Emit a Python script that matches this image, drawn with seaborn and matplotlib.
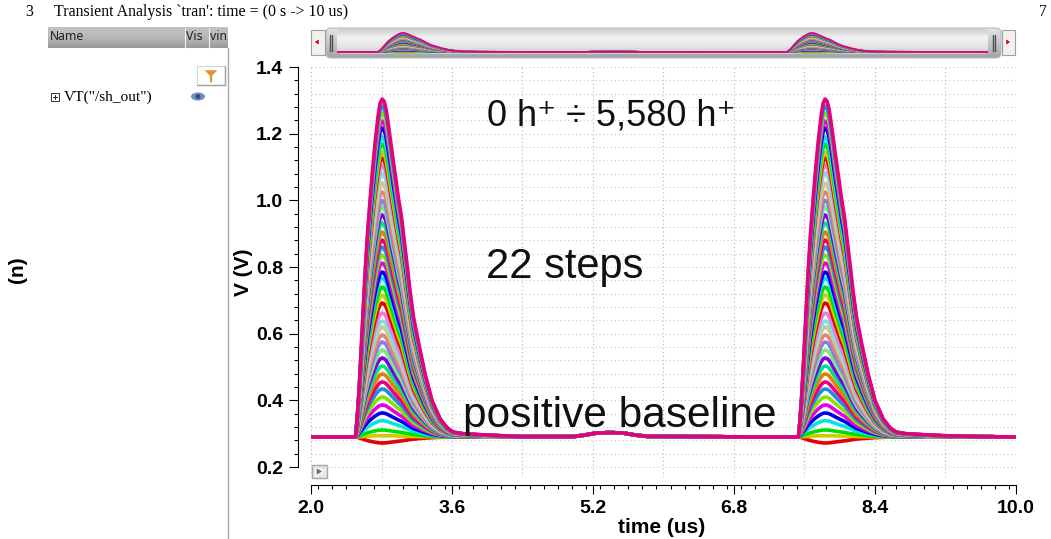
import numpy as np
import pandas as pd
import matplotlib
matplotlib.use("Agg")
import matplotlib.pyplot as plt
from matplotlib.patches import FancyBboxPatch, Polygon, Rectangle, Ellipse
from matplotlib.ticker import MultipleLocator, FormatStrFormatter
import seaborn as sns

W, H = 1051, 539

peak_v = [0.272, 0.294, 0.311, 0.339, 0.362, 0.386, 0.410, 0.434, 0.455,
          0.479, 0.503, 0.527, 0.551, 0.575, 0.596, 0.620, 0.638, 0.662,
          0.692, 0.716, 0.740, 0.767, 0.785, 0.812, 0.836, 0.860, 0.881,
          0.905, 0.932, 0.956, 0.980, 1.000, 1.025, 1.052, 1.082, 1.106,
          1.127, 1.145, 1.169, 1.190, 1.217, 1.238, 1.262, 1.283, 1.304]

# outermost pulse
pulse_offset_us = [0.000, 0.017, 0.040, 0.062, 0.085, 0.108, 0.136, 0.165, 0.193,
                   0.221, 0.255, 0.278, 0.301, 0.323, 0.346, 0.369, 0.397, 0.425,
                   0.460, 0.488, 0.522, 0.550, 0.579, 0.618, 0.658, 0.721, 0.789,
                   0.868, 0.959, 1.038, 1.106, 1.220, 1.413, 1.640]
pulse_ref_v = [0.290, 0.340, 0.430, 0.540, 0.660, 0.780, 0.900, 1.000, 1.090,
               1.170, 1.250, 1.290, 1.304, 1.298, 1.275, 1.235, 1.180, 1.125,
               1.060, 1.005, 0.950, 0.885, 0.820, 0.730, 0.650, 0.565, 0.480,
               0.400, 0.345, 0.318, 0.305, 0.300, 0.297, 0.294]
pulse_start_us = [2.505, 7.532]

# flat parts, shared by all the curves
lead_time_us = [2.0, 2.4]
lead_v = [0.290, 0.290]
gap_time_us = [4.372, 4.973, 5.109, 5.245, 5.393, 5.540, 5.676, 5.813, 6.414, 7.095]
gap_v = [0.291, 0.291, 0.296, 0.302, 0.303, 0.302, 0.296, 0.292, 0.291, 0.290]
tail_time_us = [9.6, 10.0]
tail_v = [0.291, 0.290]
base_v = 0.290

curve_colors = ["#e60000", "#cccc00", "#00e000", "#00e6e6", "#0000e6", "#e600e6",
                "#8ae000", "#1a8fe0", "#e6007e", "#e67e00", "#00e67e", "#8000e6",
                "#80e680", "#8080e6", "#e68080", "#cccc80", "#80e0e0", "#e080e0"]

y_ticks = [0.2, 0.4, 0.6, 0.8, 1.0, 1.2, 1.4]
x_ticks = [2.0, 3.6, 5.2, 6.8, 8.4, 10.0]


def build_curves():
    rows = []
    ref = np.array(pulse_ref_v)
    offs = np.array(pulse_offset_us)
    for i, peak in enumerate(peak_v):
        scaled = base_v + (ref - base_v) * (peak - base_v) / (ref.max() - base_v)
        t = np.concatenate([lead_time_us, pulse_start_us[0] + offs, gap_time_us,
                            pulse_start_us[1] + offs, tail_time_us])
        v = np.concatenate([lead_v, scaled, gap_v, scaled, tail_v])
        rows.append(pd.DataFrame({"time": t, "v": v, "curve": i}))
    return pd.concat(rows, ignore_index=True)


def px_axes(left, top, right, bottom):
    return fig.add_axes([left / W, 1 - bottom / H, (right - left) / W, (bottom - top) / H])


def gradient(ax, x0, x1, y0, y1, stops, z=1):
    g = np.interp(np.linspace(0, 1, 64), np.linspace(0, 1, len(stops)), stops).reshape(-1, 1)
    return ax.imshow(g, extent=[x0, x1, y1, y0], cmap="gray", vmin=0, vmax=1, aspect="auto", zorder=z)


sns.set_theme(style="white")
plt.rcParams["font.family"] = ["Liberation Sans", "DejaVu Sans"]
plt.rcParams["text.color"] = "black"
plt.rcParams["axes.labelcolor"] = "black"
plt.rcParams["xtick.labelcolor"] = "black"
plt.rcParams["ytick.labelcolor"] = "black"

df = build_curves()
palette = {i: curve_colors[i % len(curve_colors)] for i in range(len(peak_v))}

fig = plt.figure(figsize=(W / 100, H / 100), dpi=100, facecolor="white")

# window chrome around the plot
bg = fig.add_axes([0, 0, 1, 1])
gradient(bg, 48, 228, 27, 48, [0.76, 0.72, 0.60])
bar = gradient(bg, 325, 1002, 27, 59, [0.90, 0.82, 0.74, 0.62])
bar_shape = FancyBboxPatch((326, 28), 675, 30, boxstyle="round,pad=0,rounding_size=5",
                           fc="none", ec="#b8bcc4", lw=0.8, zorder=2)
bg.add_patch(bar_shape)
bar.set_clip_path(bar_shape)
lane = gradient(bg, 337, 988, 29, 54, [0.80, 0.95, 0.90, 0.80], z=2)
lane_shape = FancyBboxPatch((337, 29), 651, 25, boxstyle="round,pad=0,rounding_size=4",
                            fc="none", ec="none", zorder=2)
bg.add_patch(lane_shape)
lane.set_clip_path(lane_shape)
bg.add_patch(Rectangle((311, 30), 14, 25, fc="#f0f0f0", ec="#a0a0a0", lw=0.8, zorder=2))
bg.add_patch(Rectangle((1002, 30), 13, 25, fc="#f0f0f0", ec="#a0a0a0", lw=0.8, zorder=2))
bg.add_patch(Polygon([[313.5, 42], [319.5, 38], [319.5, 46]], fc="#e00000", zorder=3))
bg.add_patch(Polygon([[1011.5, 42], [1005.5, 38], [1005.5, 46]], fc="#e00000", zorder=3))
for gx in [330, 332, 993, 995]:
    bg.plot([gx, gx], [35, 51], color="#505050", lw=1, zorder=3)
bg.plot([184.5, 184.5], [28, 48], color="#f0f0f0", lw=0.8, zorder=2)
bg.plot([208.5, 208.5], [28, 48], color="#f0f0f0", lw=0.8, zorder=2)
bg.plot([228, 228], [48, 539], color="#a8a8a8", lw=1, zorder=2)
bg.add_patch(Rectangle((197, 66), 28, 19, fc="white", ec="#d4d4d4", lw=0.8, zorder=2))
bg.plot([197, 225, 225], [85, 85, 66], color="#a0a0a0", lw=1, zorder=3)
bg.add_patch(Polygon([[203, 69.5], [219, 69.5], [212.8, 76], [212.8, 83], [209.2, 83], [209.2, 76]],
                     fc="#e8902c", zorder=3))
bg.add_patch(Rectangle((51, 93), 8, 8, fc="white", ec="#303030", lw=0.7, zorder=2))
bg.plot([53, 57], [97, 97], color="#202020", lw=0.7, zorder=3)
bg.plot([55, 55], [95, 99], color="#202020", lw=0.7, zorder=3)
bg.add_patch(Ellipse((198, 96.5), 14, 8, fc="#6f8fc0", ec="none", zorder=2))
bg.add_patch(Ellipse((198, 96.5), 5, 5, fc="#34507f", ec="none", zorder=3))
bg.add_patch(Rectangle((312, 465), 15, 13, fc="#e8e8e8", ec="#a8a8a8", lw=1, zorder=2))
bg.add_patch(Polygon([[316, 467], [323.5, 471.5], [316, 476]], fc="#707070", zorder=3))
bg.set_xlim(0, W)
bg.set_ylim(H, 0)
bg.axis("off")

serif = "Liberation Serif"
bg.text(29, 12, "3", family=serif, fontsize=11.4, ha="center", va="center")
bg.text(54, 12, "Transient Analysis `tran': time = (0 s -> 10 us)", family=serif,
        fontsize=11.4, va="center")
bg.text(1043, 12, "7", family=serif, fontsize=11.4, ha="center", va="center")
bg.text(50, 36.5, "Name", family="Noto Sans", fontsize=8.8, va="center", color="#202020")
bg.text(186, 36.5, "Vis", family="Noto Sans", fontsize=8.8, va="center", color="#202020")
bg.text(210, 36.5, "vin", family="Noto Sans", fontsize=8.8, va="center", color="#202020")
bg.text(64, 97, 'VT("/sh_out")', family=serif, fontsize=11.1, va="center")
bg.text(18, 270, "(n)", fontsize=15, fontweight="bold", rotation=90, ha="center", va="center")

# main plot
ax = px_axes(311, 66, 1016, 477)
ax.patch.set_alpha(0)
sns.lineplot(data=df, x="time", y="v", hue="curve", palette=palette, estimator=None,
             sort=False, legend=False, lw=2.6, ax=ax)
ax.set_xlim(2, 10)
ax.set_ylim(0.17, 1.403)
ax.spines["top"].set_visible(False)
ax.spines["right"].set_visible(False)
ax.spines["bottom"].set_position(("outward", 5.8))
ax.spines["left"].set_position(("outward", 9.4))
ax.spines["bottom"].set_bounds(2, 10)
ax.spines["left"].set_bounds(0.2, 1.4)
for side in ["bottom", "left"]:
    ax.spines[side].set_color("black")
    ax.spines[side].set_linewidth(0.8)
ax.set_xticks(x_ticks)
ax.set_yticks(y_ticks)
ax.xaxis.set_major_formatter(FormatStrFormatter("%.1f"))
ax.yaxis.set_major_formatter(FormatStrFormatter("%.1f"))
ax.xaxis.set_minor_locator(MultipleLocator(0.16))
ax.yaxis.set_minor_locator(MultipleLocator(0.04))
ax.tick_params(axis="both", which="major", length=6.5, width=0.8, color="black",
               labelcolor="black", labelsize=14, bottom=True, left=True, pad=4)
ax.tick_params(axis="both", which="minor", length=3, width=0.8, color="black",
               bottom=True, left=True)
plt.setp(ax.get_xticklabels() + ax.get_yticklabels(), fontweight="bold")
for gy in np.arange(0.2, 1.41, 0.04):
    ax.axhline(gy, color="#c8c8c8", lw=0.8, ls=(0, (1, 2.5)), zorder=0)
for gx in np.arange(2.0, 10.01, 0.8):
    ax.axvline(gx, color="#b4b4b4", lw=0.8, ls=(0, (1, 2.5)), zorder=0)
ax.set_xlabel("time (us)", fontsize=15, fontweight="bold", color="black")
ax.xaxis.set_label_coords(0.497, -0.1)
ax.set_ylabel("V (V)", fontsize=15, fontweight="bold", color="black")
ax.yaxis.set_label_coords(-0.082, 0.497)

ax.text(3.995, 1.252, "0 h\u207a \u00f7 5,580 h\u207a", fontsize=26, ha="left", va="center", color="#101010", zorder=10)
ax.text(3.985, 0.80, "22 steps", fontsize=30, ha="left", va="center", color="#101010", zorder=10)
ax.text(3.72, 0.354, "positive baseline", fontsize=30.5, ha="left", va="center", color="#101010", zorder=10)

# overview strip in the scrollbar
ov = px_axes(337, 29, 988, 54)
ov.patch.set_alpha(0)
sns.lineplot(data=df, x="time", y="v", hue="curve", palette=palette, estimator=None,
             sort=False, legend=False, lw=1.3, ax=ov)
ov.set_xlim(2, 10)
ov.set_ylim(0.183, 1.519)
ov.axis("off")

fig.savefig("out.png", dpi=100)
